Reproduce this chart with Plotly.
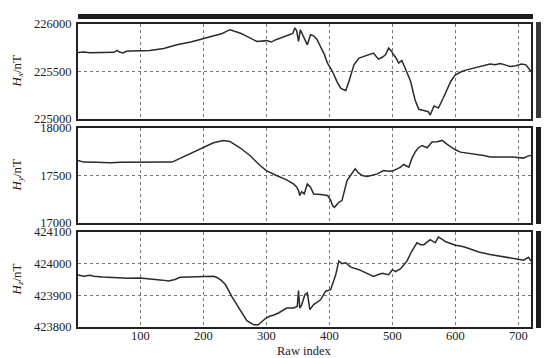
import plotly.graph_objects as go

# ---------------- data ----------------
hx_idx = [1, 10, 20, 30, 45, 58, 63, 67, 72, 78, 85, 100, 115, 137, 158, 180, 200, 216, 230, 242,
          250, 258, 266, 274, 285, 300, 308, 315, 322, 330, 337, 342, 345, 348, 351, 354, 358, 362,
          365, 370, 375, 380, 386, 392, 397, 405, 412, 418, 422, 426, 431, 435, 439, 447, 455, 460,
          465, 470, 474, 478, 484, 489, 494, 498, 502, 506, 510, 515, 520, 529, 536, 542, 550, 557,
          560, 563, 566, 570, 573, 580, 587, 593, 600, 610, 618, 628, 639, 646, 655, 663, 671, 679,
          687, 696, 705, 712, 716, 720]
hx_val = [225700, 225705, 225698, 225700, 225700, 225702, 225722, 225705, 225695, 225712, 225715,
          225718, 225722, 225742, 225781, 225810, 225845, 225869, 225900, 225940, 225925, 225905,
          225880, 225852, 225816, 225825, 225810, 225835, 225852, 225870, 225887, 225900, 225958,
          225930, 225816, 225940, 225880, 225830, 225781, 225887, 225876, 225840, 225763, 225680,
          225588, 225500, 225394, 225324, 225310, 225299, 225394, 225480, 225570, 225641, 225660,
          225676, 225680, 225694, 225660, 225630, 225650, 225676, 225746, 225720, 225676, 225640,
          225588, 225616, 225540, 225394, 225200, 225102, 225090, 225077, 225042, 225090, 225137,
          225125, 225116, 225210, 225306, 225400, 225465, 225500, 225517, 225535, 225552, 225565,
          225578, 225570, 225584, 225570, 225552, 225560, 225578, 225570, 225540, 225500]

hy_idx = [1, 5, 10, 30, 52, 70, 100, 125, 150, 158, 179, 200, 216, 232, 242, 258, 274, 290, 300,
          316, 332, 343, 348, 351, 353, 356, 360, 365, 370, 375, 380, 386, 397, 402, 405, 408, 415,
          420, 428, 436, 441, 446, 452, 460, 468, 476, 486, 495, 502, 508, 513, 518, 526, 531, 536,
          541, 547, 555, 563, 571, 579, 587, 600, 608, 620, 634, 645, 655, 670, 680, 692, 708, 715, 720]
hy_val = [17658, 17650, 17641, 17640, 17634, 17640, 17641, 17640, 17641, 17665, 17729, 17792, 17845,
          17869, 17859, 17792, 17711, 17605, 17552, 17500, 17454, 17412, 17380, 17341, 17290, 17330,
          17306, 17412, 17377, 17306, 17300, 17299, 17289, 17240, 17183, 17165, 17218, 17236, 17447,
          17520, 17570, 17530, 17500, 17489, 17500, 17517, 17552, 17545, 17552, 17570, 17588, 17616,
          17588, 17680, 17746, 17790, 17816, 17792, 17852, 17855, 17869, 17827, 17771, 17746, 17735,
          17722, 17710, 17694, 17694, 17690, 17694, 17683, 17704, 17710]

hz_idx = [1, 10, 20, 26, 40, 63, 80, 100, 121, 135, 145, 155, 163, 180, 200, 211, 216, 221, 228,
          235, 245, 258, 269, 280, 287, 298, 305, 311, 320, 332, 343, 349, 351, 353, 356, 361, 365,
          369, 375, 386, 394, 402, 410, 415, 420, 426, 434, 447, 460, 470, 478, 484, 494, 500, 505,
          513, 523, 531, 539, 545, 550, 560, 568, 573, 578, 584, 600, 610, 618, 637, 655, 676, 697,
          708, 716, 720]
hz_val = [423964, 423960, 423963, 423960, 423958, 423955, 423954, 423955, 423952, 423948, 423945,
          423950, 423957, 423958, 423959, 423962, 423960, 423957, 423948, 423934, 423897, 423855,
          423820, 423807, 423807, 423826, 423834, 423837, 423845, 423860, 423860, 423865, 423915,
          423860, 423870, 423902, 423908, 423855, 423871, 423886, 423913, 423918, 423965, 424008,
          424000, 424003, 423989, 423981, 423970, 423960, 423966, 423970, 423965, 423981, 423975,
          423984, 424008, 424040, 424066, 424060, 424060, 424076, 424066, 424084, 424078, 424070,
          424058, 424055, 424050, 424037, 424029, 424022, 424013, 424011, 424020, 424008]

x_ticks = [100, 200, 300, 400, 500, 600, 700]
hx_ticks = [225000, 225500, 226000]
hy_ticks = [17000, 17500, 18000]
hz_ticks = [423800, 423900, 424000, 424100]

panel_titles = ["<i>H</i><sub><i>x</i></sub>/nT", "<i>H</i><sub><i>y</i></sub>/nT",
                "<i>H</i><sub><i>z</i></sub>/nT"]

# ---------------- figure ----------------
W, H = 553, 358
FONT = "Liberation Serif"
LINE = "#2b2b2b"

fig = go.Figure()

def py(px):
    return 1 - px / H

def pxx(px):
    return px / W

x_dom = [pxx(78), pxx(531)]
panels = [
    (24, 119, hx_idx, hx_val, hx_ticks, [225000, 226000]),
    (128, 223, hy_idx, hy_val, hy_ticks, [17000, 18000]),
    (232, 327, hz_idx, hz_val, hz_ticks, [423800, 424100]),
]

layout = dict(
    width=W, height=H,
    margin=dict(l=0, r=0, t=0, b=0, autoexpand=False),
    paper_bgcolor="white", plot_bgcolor="white",
    showlegend=False,
    font=dict(family=FONT, size=12.5, color="#222"),
)

for i, (top, bot, xs, ys, yt, yr) in enumerate(panels):
    n = i + 1
    xa = "x" if n == 1 else f"x{n}"
    ya = "y" if n == 1 else f"y{n}"
    fig.add_trace(go.Scatter(x=xs, y=ys, mode="lines", xaxis=xa, yaxis=ya,
                             line=dict(color=LINE, width=1.5), hoverinfo="skip"))
    layout["xaxis" if n == 1 else f"xaxis{n}"] = dict(
        domain=x_dom, anchor=ya, range=[1, 720], tickvals=x_ticks,
        ticktext=[str(v) for v in x_ticks],
        showticklabels=(n == 3), ticks="", ticklabelstandoff=-4,
        showgrid=True, gridcolor="#777", automargin=False,
        griddash="dot", gridwidth=1, showline=True, mirror=True, linecolor="#222",
        linewidth=2, zeroline=False, tickfont=dict(family=FONT, size=12.5, color="#222"),
    )
    layout["yaxis" if n == 1 else f"yaxis{n}"] = dict(
        domain=[py(bot), py(top)], anchor=xa, range=yr, tickvals=yt,
        ticktext=[str(v) for v in yt], automargin=False,
        ticks="outside", ticklen=2, tickcolor="rgba(0,0,0,0)", showgrid=True, gridcolor="#777",
        griddash="dot", gridwidth=1, showline=True, mirror=True, linecolor="#222",
        linewidth=2, zeroline=False, tickfont=dict(family=FONT, size=12.5, color="#222"),
    )

fig.update_layout(**layout)

# axis titles
for i, (top, bot, *_rest) in enumerate(panels):
    fig.add_annotation(x=pxx(17), y=py((top + bot) / 2), xref="paper", yref="paper",
                       xanchor="center", yanchor="middle",
                       text=panel_titles[i], showarrow=False, textangle=-90,
                       font=dict(family=FONT, size=13, color="#222"))
fig.add_annotation(x=pxx(304), y=py(351), xref="paper", yref="paper", text="Raw index",
                   xanchor="center", yanchor="middle",
                   showarrow=False, font=dict(family=FONT, size=12.5, color="#222"))

# decorative bars (top and right)
fig.add_shape(type="rect", xref="paper", yref="paper", x0=pxx(78), x1=pxx(533),
              y0=py(19), y1=py(14), fillcolor="#1e1e1e", line=dict(width=0))
for top, bot, color in [(22, 118, "#3a3a3a"), (127, 224, "#1e1e1e"), (231, 328, "#1e1e1e")]:
    fig.add_shape(type="rect", xref="paper", yref="paper", x0=pxx(536), x1=pxx(541),
                  y0=py(bot), y1=py(top), fillcolor=color, line=dict(width=0))

fig.write_html("out.html", config={"displayModeBar": False},
               post_script="document.body.style.margin='0';")
